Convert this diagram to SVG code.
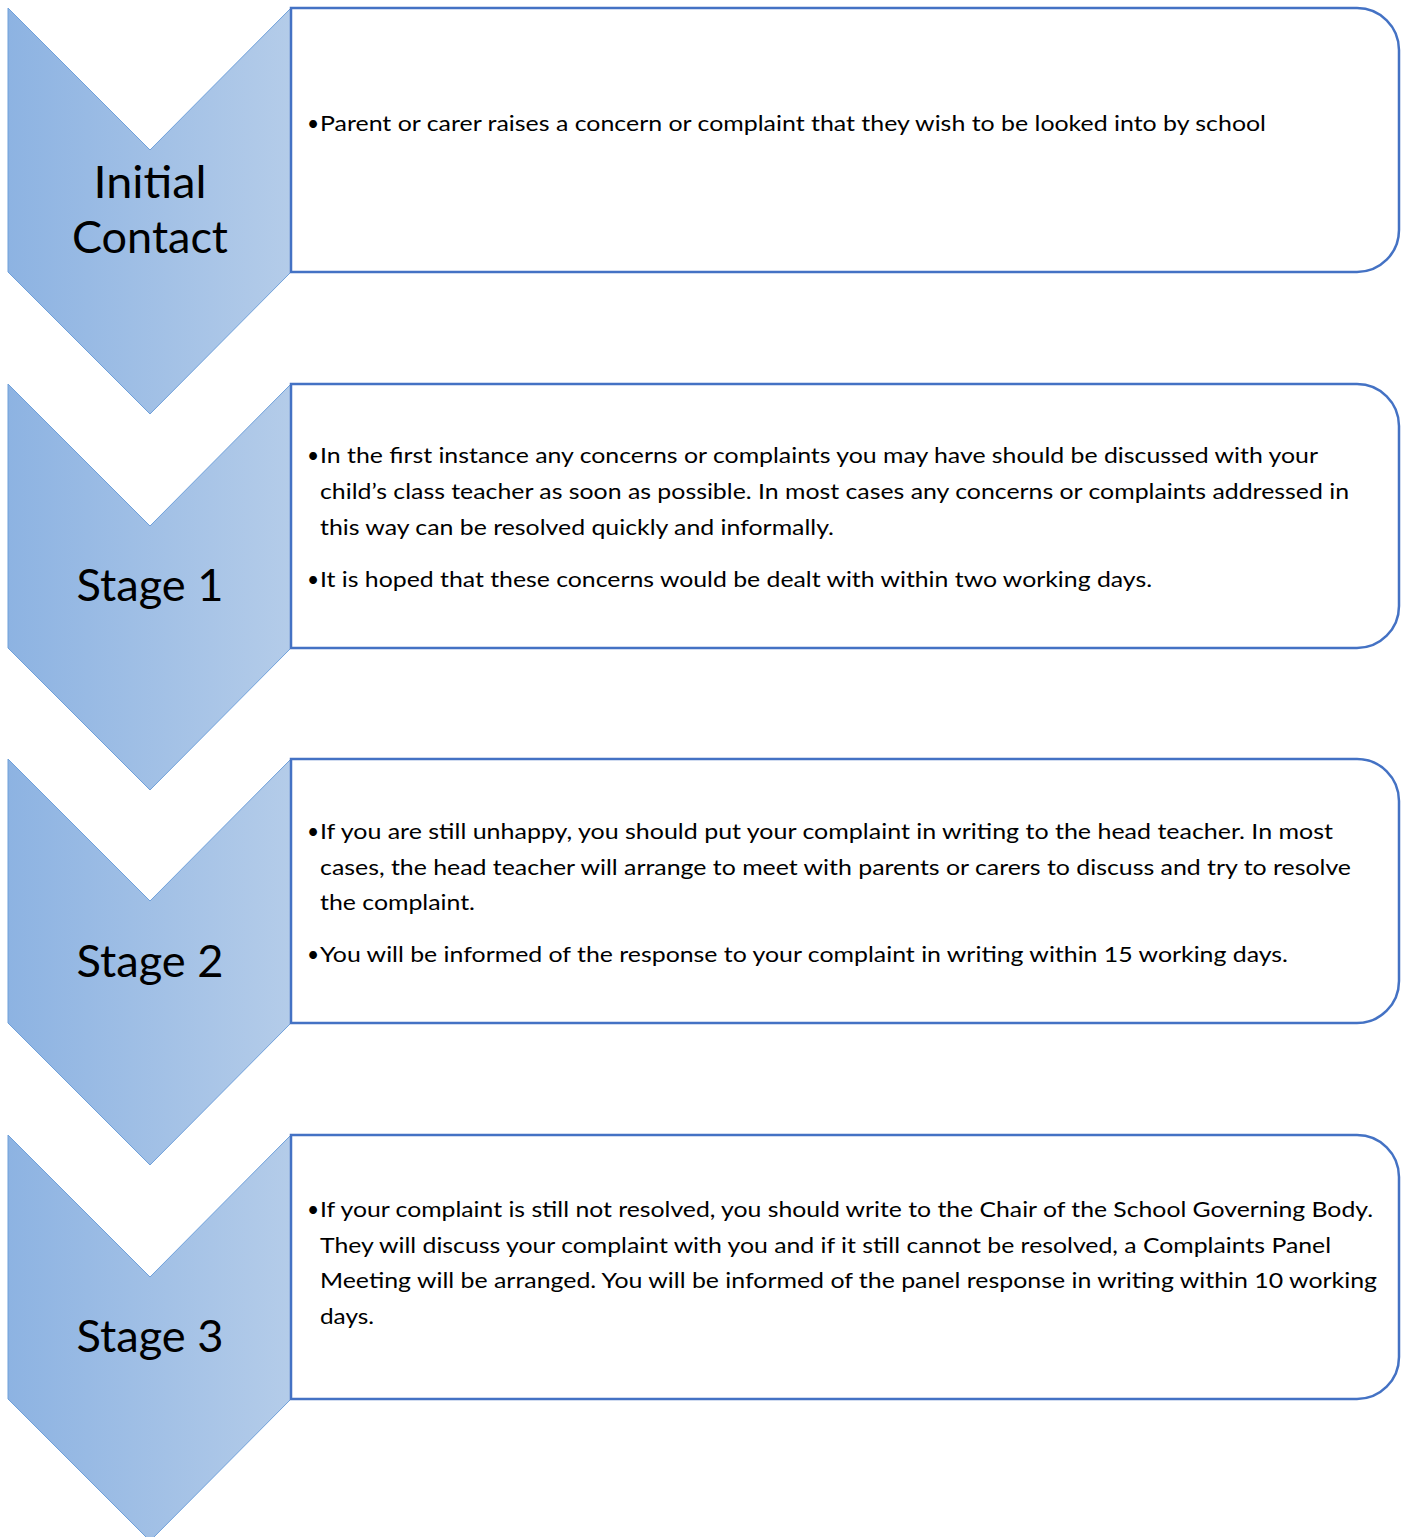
<svg xmlns="http://www.w3.org/2000/svg" width="1403" height="1537" viewBox="0 0 1403 1537">
<style>
.chev{fill:url(#g);stroke:#6FA0DA;stroke-width:1}
.box{fill:#FFFFFF;stroke:#4472C4;stroke-width:2.5}
.lbl{font-family:Lato,"Liberation Sans",sans-serif;font-size:45px;fill:#000000;text-anchor:middle}
.t{font-family:Lato,"Liberation Sans",sans-serif;font-size:21px;fill:#000000}
</style>
<defs>
<linearGradient id="g" x1="0" y1="0" x2="1" y2="0">
<stop offset="0" stop-color="#8DB3E2"/>
<stop offset="1" stop-color="#B4CCE9"/>
</linearGradient>
<path id="chev" d="M8,0 L150,142 L291,0 L291,264 L150,406 L8,264 Z"/>
<path id="bx" d="M291,0 H1357 A42,42 0 0 1 1399,42 V222 A42,42 0 0 1 1357,264 H291 Z"/>
</defs>
<g id="connectors"/>
<g id="initial-contact" transform="translate(0,8)">
<use href="#chev" class="chev"/>
<use href="#bx" class="box"/>
<text class="lbl" x="150" y="190" textLength="113" lengthAdjust="spacingAndGlyphs">Initial</text>
<text class="lbl" x="150" y="245" textLength="156" lengthAdjust="spacingAndGlyphs">Contact</text>
<text class="t" x="307" y="123">•</text>
<text class="t" x="320" y="123" textLength="946" lengthAdjust="spacingAndGlyphs">Parent or carer raises a concern or complaint that they wish to be looked into by school</text>
</g>
<g id="stage-1" transform="translate(0,384)">
<use href="#chev" class="chev"/>
<use href="#bx" class="box"/>
<text class="lbl" x="150" y="217" textLength="147" lengthAdjust="spacingAndGlyphs">Stage 1</text>
<text class="t" x="307" y="79">•</text>
<text class="t" x="320" y="79" textLength="998" lengthAdjust="spacingAndGlyphs">In the first instance any concerns or complaints you may have should be discussed with your</text>
<text class="t" x="320" y="115" textLength="1029" lengthAdjust="spacingAndGlyphs">child’s class teacher as soon as possible. In most cases any concerns or complaints addressed in</text>
<text class="t" x="320" y="151" textLength="514" lengthAdjust="spacingAndGlyphs">this way can be resolved quickly and informally.</text>
<text class="t" x="307" y="203">•</text>
<text class="t" x="320" y="203" textLength="832" lengthAdjust="spacingAndGlyphs">It is hoped that these concerns would be dealt with within two working days.</text>
</g>
<g id="stage-2" transform="translate(0,759)">
<use href="#chev" class="chev"/>
<use href="#bx" class="box"/>
<text class="lbl" x="150" y="218" textLength="147" lengthAdjust="spacingAndGlyphs">Stage 2</text>
<text class="t" x="307" y="80">•</text>
<text class="t" x="320" y="80" textLength="1013" lengthAdjust="spacingAndGlyphs">If you are still unhappy, you should put your complaint in writing to the head teacher. In most</text>
<text class="t" x="320" y="116" textLength="1031" lengthAdjust="spacingAndGlyphs">cases, the head teacher will arrange to meet with parents or carers to discuss and try to resolve</text>
<text class="t" x="320" y="151" textLength="155" lengthAdjust="spacingAndGlyphs">the complaint.</text>
<text class="t" x="307" y="203">•</text>
<text class="t" x="320" y="203" textLength="968" lengthAdjust="spacingAndGlyphs">You will be informed of the response to your complaint in writing within 15 working days.</text>
</g>
<g id="stage-3" transform="translate(0,1135)">
<use href="#chev" class="chev"/>
<use href="#bx" class="box"/>
<text class="lbl" x="150" y="217" textLength="147" lengthAdjust="spacingAndGlyphs">Stage 3</text>
<text class="t" x="307" y="82">•</text>
<text class="t" x="320" y="82" textLength="1053" lengthAdjust="spacingAndGlyphs">If your complaint is still not resolved, you should write to the Chair of the School Governing Body.</text>
<text class="t" x="320" y="118" textLength="1011" lengthAdjust="spacingAndGlyphs">They will discuss your complaint with you and if it still cannot be resolved, a Complaints Panel</text>
<text class="t" x="320" y="153" textLength="1057" lengthAdjust="spacingAndGlyphs">Meeting will be arranged. You will be informed of the panel response in writing within 10 working</text>
<text class="t" x="320" y="189" textLength="54" lengthAdjust="spacingAndGlyphs">days.</text>
</g>
</svg>
